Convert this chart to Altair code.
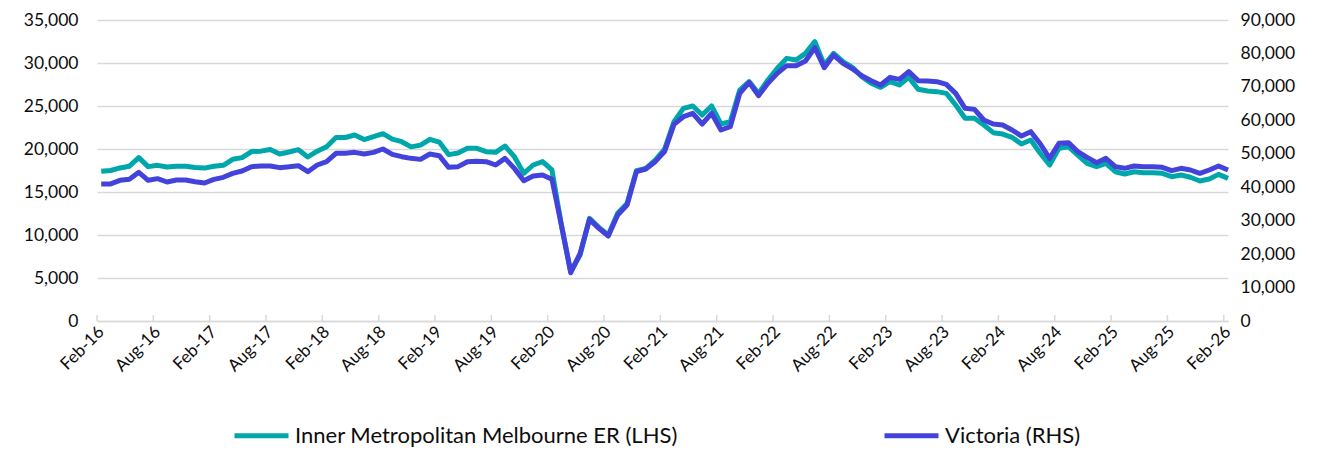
import altair as alt
import pandas as pd

# ---- data ----
months = [d.strftime("%b-%y") for d in pd.date_range("2016-02-01", "2026-02-01", freq="MS")]

inner_lhs = [
    17400, 17500, 17800, 18000, 19000, 17950, 18100, 17900, 18000, 18000,
    17850, 17780, 18000, 18100, 18800, 19000, 19700, 19750, 19950, 19420,
    19650, 19920, 19070, 19750, 20270, 21340, 21340, 21630, 21100, 21450,
    21780, 21150, 20850, 20250, 20450, 21120, 20800, 19350, 19540, 20080,
    20080, 19690, 19610, 20350, 19110, 17170, 18140, 18530, 17560, 11200,
    5740, 7670, 11940, 10890, 10000, 12520, 13680, 17480, 17750, 18720,
    20000, 23180, 24730, 25000, 23950, 25000, 22910, 23180, 26860, 27830,
    26470, 28020, 29380, 30540, 30350, 31120, 32480, 29770, 31120, 30150,
    29500, 28410, 27640, 27170, 27830, 27440, 28330, 26940, 26740, 26670,
    26470, 25120, 23570, 23570, 22790, 21900, 21740, 21360, 20580, 21050,
    19500, 18140, 20080, 20270, 19300, 18330, 17950, 18330, 17360, 17090,
    17360, 17250, 17250, 17170, 16780, 16980, 16710, 16280, 16510, 17050,
    16590,
]

victoria_rhs = [
    41000, 41000, 42060, 42360, 44450, 42060, 42560, 41560, 42160, 42160,
    41660, 41260, 42360, 42960, 44150, 44850, 46150, 46350, 46350, 45850,
    46100, 46450, 44650, 46640, 47640, 50130, 50130, 50430, 49930, 50430,
    51430, 49830, 49130, 48630, 48330, 49930, 49430, 45950, 46150, 47640,
    47800, 47640, 46640, 48630, 45640, 41960, 43360, 43650, 42360, 28800,
    14450, 20230, 30400, 27710, 25420, 31690, 34680, 44650, 45450, 47640,
    50700, 58800, 61090, 62090, 58900, 62090, 57110, 58100, 68070, 71360,
    67370, 71060, 74050, 76350, 76350, 77740, 81730, 75750, 79530, 77040,
    75400, 73350, 71860, 70560, 72860, 72260, 74550, 71860, 71760, 71560,
    70760, 68070, 63580, 63280, 60100, 58900, 58600, 57110, 55300, 56610,
    53000, 48630, 53120, 53320, 50630, 48930, 47340, 48630, 46150, 45650,
    46350, 46150, 46150, 45950, 44950, 45650, 45150, 44150, 45150, 46350,
    45150,
]

series_names = ["Inner Metropolitan Melbourne ER (LHS)", "Victoria (RHS)"]
series_colors = ["#00A7AA", "#4343DC"]
left_ticks = list(range(0, 35001, 5000))
right_ticks = list(range(0, 90001, 10000))
x_tick_labels = months[::6]

# ---- build tables ----
idx = list(range(len(months)))
df_inner = pd.DataFrame({"i": idx, "month": months, "value": inner_lhs, "series": series_names[0]})
df_vic = pd.DataFrame({"i": idx, "month": months, "value": victoria_rhs, "series": series_names[1]})
tick_pos = [k * 6 - 0.45 for k in range(len(x_tick_labels))]
df_ticks = pd.DataFrame({"i": tick_pos})

FONT = "Lato, sans-serif"
TXT = "#0d0d0d"
GRID = "#D9D9D9"

label_arr = "[" + ",".join("'" + s + "'" for s in x_tick_labels) + "]"

x_enc = alt.X(
    "i:Q",
    scale=alt.Scale(domain=[-0.45, 120], nice=False, zero=False),
    axis=alt.Axis(
        values=tick_pos,
        labelExpr=label_arr + "[round((datum.value + 0.45) / 6)]",
        labelAngle=-45,
        labelAlign="right",
        labelBaseline="middle",
        labelOffset=4,
        labelPadding=8,
        labelFont=FONT,
        labelFontSize=17,
        labelColor=TXT,
        grid=False,
        ticks=False,
        domain=True,
        domainColor=GRID,
        domainWidth=1.5,
        title=None,
        labelOverlap=False,
    ),
)

color_enc = alt.Color(
    "series:N",
    scale=alt.Scale(domain=series_names, range=series_colors),
    legend=alt.Legend(
        orient="none",
        legendX=135,
        legendY=386,
        direction="horizontal",
        title=None,
        symbolType="stroke",
        symbolSize=2916,
        symbolStrokeWidth=5,
        labelFont=FONT,
        labelFontSize=22,
        labelColor=TXT,
        labelLimit=1000,
        labelOffset=4,
        columnPadding=196,
    ),
)

inner_line = alt.Chart(df_inner).mark_line(strokeWidth=5, strokeJoin="round").encode(
    x=x_enc,
    y=alt.Y(
        "value:Q",
        scale=alt.Scale(domain=[0, 35000], nice=False),
        axis=alt.Axis(
            orient="left",
            values=left_ticks,
            format=",d",
            grid=True,
            gridColor=GRID,
            gridWidth=1.5,
            domain=False,
            ticks=False,
            labelPadding=19,
            labelFont=FONT,
            labelFontSize=17.5,
            labelColor=TXT,
            title=None,
        ),
    ),
    color=color_enc,
)

vic_line = alt.Chart(df_vic).mark_line(strokeWidth=5, strokeJoin="round").encode(
    x=x_enc,
    y=alt.Y(
        "value:Q",
        scale=alt.Scale(domain=[0, 90000], nice=False),
        axis=alt.Axis(
            orient="right",
            values=right_ticks,
            format=",d",
            grid=False,
            domain=False,
            ticks=False,
            labelPadding=12,
            labelFont=FONT,
            labelFontSize=17.5,
            labelColor=TXT,
            title=None,
        ),
    ),
    color=color_enc,
)

x_ticks = alt.Chart(df_ticks).mark_rule(color=GRID, strokeWidth=1.5).encode(
    x=x_enc,
    y=alt.value(295),
    y2=alt.value(301),
)

chart = (
    alt.layer(x_ticks, inner_line, vic_line)
    .resolve_scale(y="independent")
    .properties(
        width=1131,
        height=301,
        padding={"left": 89, "top": 12, "right": 90, "bottom": 128},
        autosize=alt.AutoSizeParams(type="none"),
    )
    .configure_view(stroke=None)
)

chart.save("out.html", embed_options={"renderer": "svg", "actions": False})
